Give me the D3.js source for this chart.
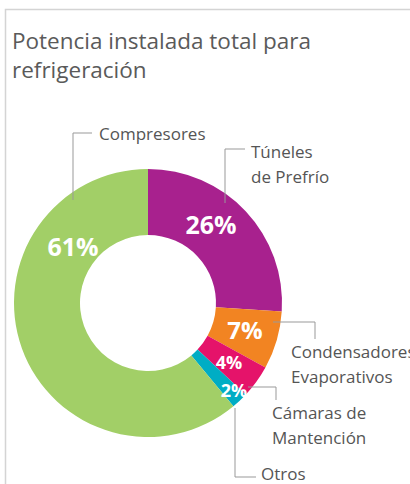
<!DOCTYPE html>
<html>
<head>
<meta charset="utf-8">
<script src="https://cdn.jsdelivr.net/npm/d3@7"></script>
<style>
  body { margin: 0; background: #fff; }
  svg { display: block; }
</style>
</head>
<body>
<svg width="410" height="484"></svg>
<script>
// data
const categories = ["Túneles de Prefrío", "Condensadores Evaporativos", "Cámaras de Mantención", "Otros", "Compresores"];
const values = [26, 7, 4, 2, 61];
const colors = ["#a8218e", "#f28422", "#e5136a", "#00adc4", "#a2cf67"];
const labelLines = [["Túneles", "de Prefrío"], ["Condensadores", "Evaporativos"], ["Cámaras de", "Mantención"], ["Otros"], ["Compresores"]];

var width = 410, height = 484;
var cx = 148, cy = 303, outerR = 134, innerR = 68;

var svg = d3.select("svg");

// frame
svg.append("path")
    .attr("d", "M5.5," + height + "V9.5H" + width)
    .attr("fill", "none")
    .attr("stroke", "#d4d4d4")
    .attr("stroke-width", 1.5);

// title
var title = svg.append("text")
    .attr("font-family", "Open Sans, sans-serif")
    .attr("font-size", 22.5)
    .attr("fill", "#5a5a5a");
title.append("tspan").attr("x", 12).attr("y", 49).text("Potencia instalada total para");
title.append("tspan").attr("x", 12).attr("y", 78).text("refrigeración");

var pie = d3.pie().sort(null).value(function(d) { return d; });
var arc = d3.arc().innerRadius(innerR).outerRadius(outerR);
var arcs = pie(values);

var g = svg.append("g").attr("transform", "translate(" + cx + "," + cy + ")");

g.selectAll("path.slice")
    .data(arcs)
    .enter()
    .append("path")
    .attr("class", "slice")
    .attr("d", arc)
    .attr("fill", function(d, i) { return colors[i]; });

// percent labels inside the ring
var pctPos = [[63, -69], [97, 36], [81, 66], [86, 94], [-75, -47]];
var pctSize = [25, 24, 18, 18, 25];
g.selectAll("text.pct")
    .data(arcs)
    .enter()
    .append("text")
    .attr("class", "pct")
    .attr("x", function(d, i) { return pctPos[i][0]; })
    .attr("y", function(d, i) { return pctPos[i][1]; })
    .attr("text-anchor", "middle")
    .attr("font-family", "Open Sans, sans-serif")
    .attr("font-weight", "bold")
    .attr("font-size", function(d, i) { return pctSize[i]; })
    .attr("fill", "#fff")
    .text(function(d) { return d.data + "%"; });

// leader lines
var leaders = [
    "M225,203V149H245",
    "M273,322H315V339",
    "M248,387H276V400",
    "M235,408V477H256",
    "M73,200V133H92"
];
svg.selectAll("path.leader")
    .data(leaders)
    .enter()
    .append("path")
    .attr("class", "leader")
    .attr("d", function(d) { return d; })
    .attr("fill", "none")
    .attr("stroke", "#999")
    .attr("stroke-width", 1);

// category labels
var labelPos = [[251, 158], [291, 358], [272, 419], [261, 480], [99, 140]];
labelLines.forEach(function(lines, i) {
    var t = svg.append("text")
        .attr("font-family", "Open Sans, sans-serif")
        .attr("font-size", 17)
        .attr("fill", "#555");
    lines.forEach(function(line, j) {
        t.append("tspan")
            .attr("x", labelPos[i][0])
            .attr("y", labelPos[i][1] + j * 25)
            .text(line);
    });
});
</script>
</body>
</html>
